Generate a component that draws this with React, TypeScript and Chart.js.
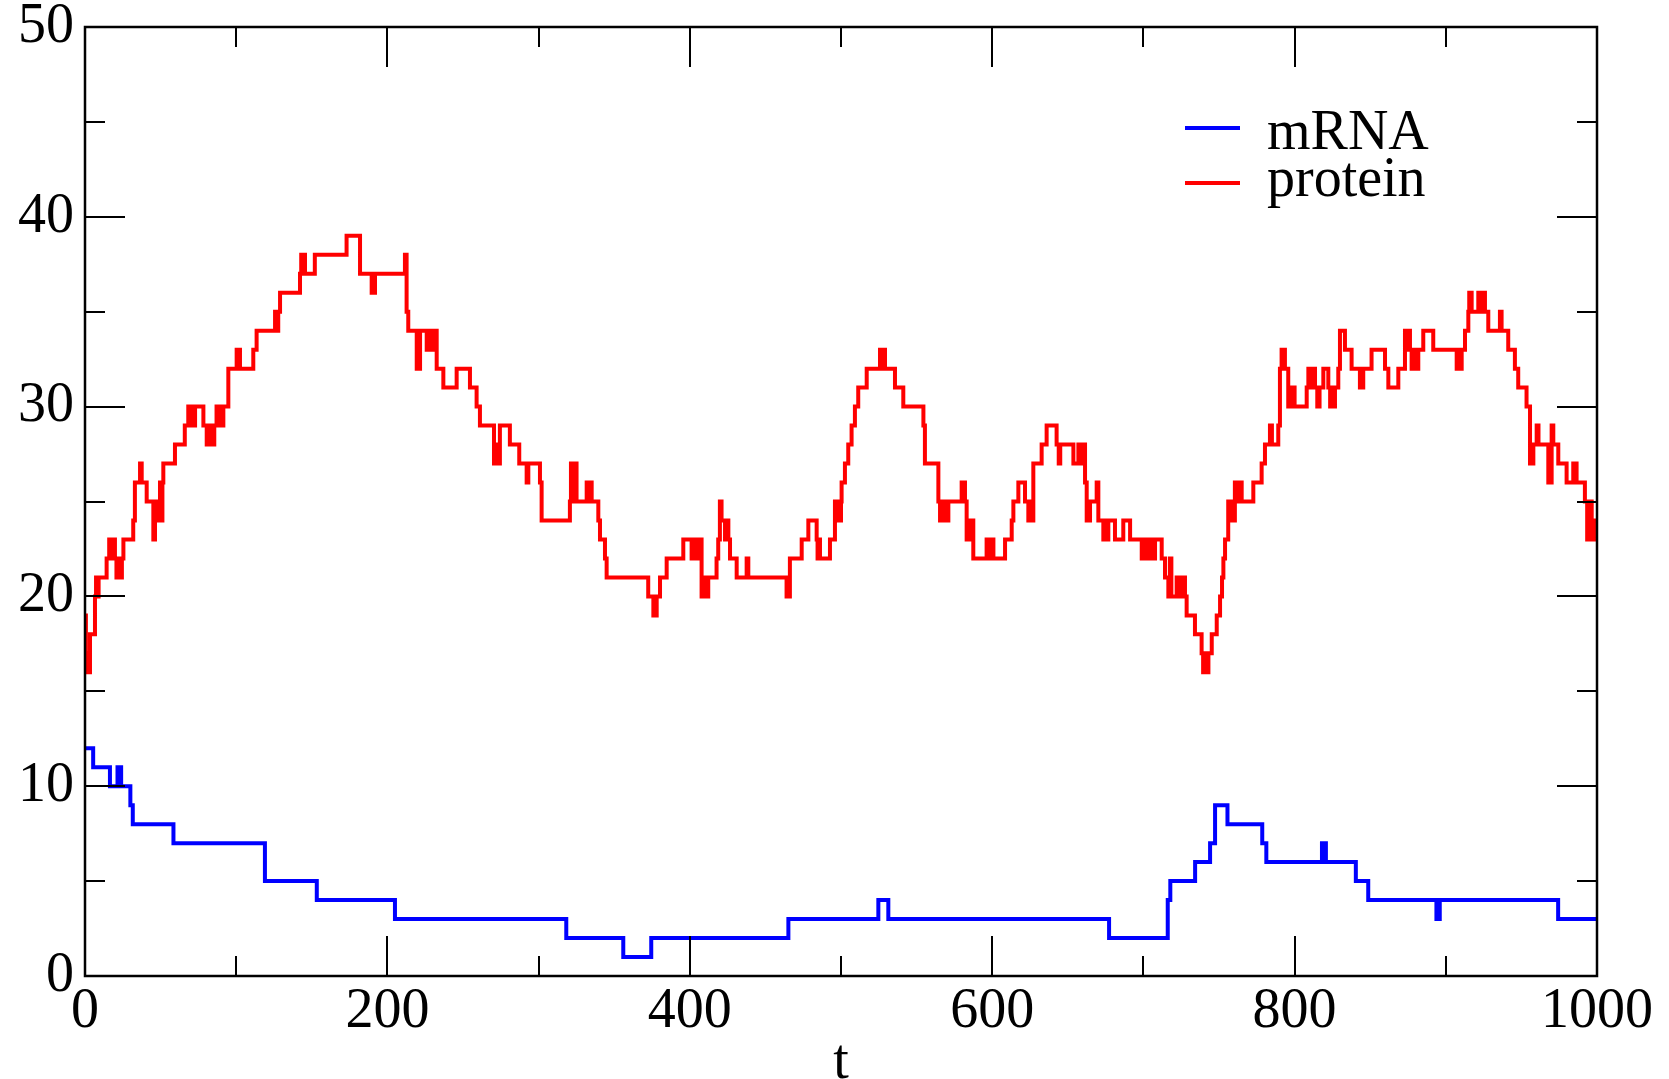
import React, { useEffect, useRef } from 'react';
import { Chart, registerables } from 'chart.js';

Chart.register(...registerables);

const FONT = "'Liberation Serif', 'Times New Roman', serif";

// mRNA copy number: value holds from each time until the next time
const mrnaTimes = [0, 5.4, 16.5, 21.5, 23.9, 30, 31.6, 58.5, 119, 153.3, 205, 318.3, 356, 374.5, 465.2, 524.7, 531.3, 677.3, 716.1, 717.8, 734.2, 744.1, 747.4, 755.6, 778.6, 781.3, 818.1, 820.7, 840.5, 848.7, 893.8, 896, 974.3, 1000];
const mrnaCounts = [12, 11, 10, 11, 10, 9, 8, 7, 5, 4, 3, 2, 1, 2, 3, 4, 3, 2, 4, 5, 6, 7, 9, 8, 7, 6, 7, 6, 5, 4, 3, 4, 3, 3];

// protein copy number
const proteinTimes = [
  0, 0.6, 1.2, 2, 2.6, 3.3, 6.6, 7.3, 8.1, 9, 14.3, 16, 18, 18.8, 19.8, 20.8, 22, 23.2, 24.4, 25.4,
  31.9, 33, 36.4, 37.5, 40.8, 45.2, 46.3, 47.4, 49.6, 50.5, 51.2, 51.8, 59.5, 66, 68.3, 69.5, 70.5, 71.8, 72.8,
  78.3, 80.5, 82.7, 84, 85.5, 87, 88.3, 89.8, 90.6, 91.5, 94.8, 100.3, 101.4, 102, 102.5, 111.3, 113.5,
  125.7, 126.8, 127.8, 129, 142.2, 143, 144, 144.8, 145.5, 152, 173, 181.9, 189.6, 191.8, 211.6, 212.7,
  213.8, 219.4, 221.6, 226, 227.5, 229, 231, 232.6, 237, 245.8, 254.6, 259, 261.2, 270.5, 272, 273.3,
  274.4, 281, 287.2, 292.1, 293.2, 294.3, 300.9, 302, 320.7, 321.4, 322.5, 323.5, 325.1, 331.8, 333.5,
  334.2, 335.1, 339.5, 340.6, 343.9, 345, 372.5, 375.9, 378.1, 380.3, 384.7, 395.7, 401.2, 403, 405,
  406.7, 407.8, 410, 411, 412.2, 417.7, 418.8, 419.9, 421, 423.3, 424.5, 425.5, 426.6, 431, 437.6, 438.7,
  464, 466.2, 474, 478.4, 483.9, 484.5, 485.2, 486.1, 492.7, 496, 497, 498, 499, 500, 500.4, 502.6,
  504.8, 507, 509.2, 511.4, 517, 525.8, 527.5, 528.3, 529.1, 535.7, 541.2, 554.5, 555.5, 564.4, 565.5,
  566.5, 567.5, 568.8, 569.8, 571, 579.8, 582, 583.1, 585.3, 587.5, 596.3, 598, 599, 600.8, 608.5,
  612.9, 614, 617.3, 621.7, 623.9, 625, 626, 627.2, 632.7, 636, 642.6, 644, 645, 653.7, 657, 658.5, 660,
  661.4, 662.5, 664.7, 669.1, 670.2, 673.5, 675, 676, 676.8, 681.2, 686.7, 691.2, 698.9, 700.5, 701.5,
  702.2, 704.4, 706, 707, 707.7, 712.1, 714.3, 716.5, 717.5, 718.5, 722, 723, 724.2, 726, 727, 727.5,
  728.6, 734.1, 738.5, 739.5, 741, 742, 743, 745.2, 748.5, 750.7, 752, 752.9, 754, 756.1, 757, 758,
  759, 760.5, 762, 763.5, 765, 772.7, 778.2, 780.4, 783.7, 785, 789.2, 790.3, 791.4, 793.6, 795.8,
  796.9, 798, 799, 800, 808, 809.1, 810.5, 812, 813.5, 815, 816.5, 819, 822.3, 823.5, 825, 826, 826.7,
  828.9, 830, 833.3, 837.7, 843.2, 845.4, 850.9, 859.8, 862, 868.6, 873, 874.5, 875.5, 876.3, 877.4,
  879, 880, 881.8, 885.1, 891.7, 907.2, 909, 910, 910.5, 912.7, 914.9, 915.5, 917.1, 921.5, 923, 924,
  925.9, 928.1, 935.8, 936.9, 941.3, 945.7, 947.9, 953.4, 955.7, 957.9, 960.1, 961.3, 967.8, 970,
  971.1, 974.4, 979.9, 984.3, 986.5, 992, 993.5, 995, 996.5, 998, 1000,
];
const proteinCounts = [
  19, 17, 16, 17, 16, 18, 20, 21, 20, 21, 22, 23, 22, 23, 22, 21, 22, 21, 22, 23,
  24, 26, 27, 26, 25, 23, 25, 24, 26, 24, 26, 27, 28, 29, 30, 29, 30, 29, 30,
  29, 28, 29, 28, 29, 30, 29, 30, 29, 30, 32, 33, 32, 33, 32, 33, 34,
  35, 34, 35, 36, 37, 38, 37, 38, 37, 38, 39, 37, 36, 37, 38, 35,
  34, 32, 34, 33, 34, 33, 34, 32, 31, 32, 31, 30, 29, 27, 28, 27,
  29, 28, 27, 26, 27, 27, 26, 24, 25, 27, 25, 27, 25, 26, 25,
  26, 25, 24, 23, 22, 21, 20, 19, 20, 21, 22, 23, 22, 23, 22,
  23, 20, 21, 20, 21, 22, 23, 25, 24, 23, 24, 23, 22, 21, 22, 21,
  20, 22, 23, 24, 23, 22, 23, 22, 23, 25, 24, 25, 24, 25, 26, 27,
  28, 29, 30, 31, 32, 33, 32, 33, 32, 31, 30, 29, 27, 25, 24,
  25, 24, 25, 24, 25, 26, 25, 23, 24, 22, 23, 22, 23, 22, 23,
  24, 25, 26, 25, 24, 25, 24, 27, 28, 29, 28, 27, 28, 27, 28, 27, 28,
  26, 24, 25, 26, 24, 23, 24, 23, 24, 23, 24, 23, 22, 23, 22,
  23, 22, 23, 22, 23, 22, 21, 20, 22, 20, 21, 20, 21, 20, 21, 20,
  19, 18, 17, 16, 17, 16, 17, 18, 19, 20, 21, 22, 23, 25, 24, 25,
  24, 26, 25, 26, 25, 26, 27, 28, 29, 28, 29, 32, 33, 32, 30,
  31, 30, 31, 30, 31, 32, 31, 32, 31, 30, 31, 32, 31, 30, 31, 30, 31,
  32, 34, 33, 32, 31, 32, 33, 32, 31, 32, 34, 33, 34, 33, 32,
  33, 32, 33, 34, 33, 32, 33, 32, 33, 34, 35, 36, 35, 36, 35, 36,
  35, 34, 35, 34, 33, 32, 31, 30, 27, 28, 29, 28, 26, 29,
  28, 27, 26, 27, 26, 25, 23, 25, 23, 24, 24,
];

const seriesLabels = ['mRNA', 'protein'];
const seriesColors = ['#0000ff', '#ff0000'];
const xTickValues = [0, 200, 400, 600, 800, 1000];
const xMinorValues = [100, 300, 500, 700, 900];
const yTickValues = [0, 10, 20, 30, 40, 50];
const yMinorValues = [5, 15, 25, 35, 45];
const xAxisTitle = 't';

const framePlugin = {
  id: 'frameTicks',
  afterDraw(chart: any) {
    const { ctx, chartArea } = chart;
    const { left, right, top, bottom } = chartArea;
    const xs = chart.scales.x;
    const ys = chart.scales.y;
    ctx.save();
    ctx.strokeStyle = '#000';
    ctx.lineCap = 'butt';
    ctx.lineWidth = 2;
    const major = 40;
    const minor = 20;
    const drawX = (v: number, len: number) => {
      const px = Math.round(xs.getPixelForValue(v));
      ctx.beginPath();
      ctx.moveTo(px, bottom);
      ctx.lineTo(px, bottom - len);
      ctx.moveTo(px, top);
      ctx.lineTo(px, top + len);
      ctx.stroke();
    };
    const drawY = (v: number, len: number) => {
      const py = Math.round(ys.getPixelForValue(v));
      ctx.beginPath();
      ctx.moveTo(left, py);
      ctx.lineTo(left + len, py);
      ctx.moveTo(right, py);
      ctx.lineTo(right - len, py);
      ctx.stroke();
    };
    xTickValues.forEach((v) => drawX(v, major));
    xMinorValues.forEach((v) => drawX(v, minor));
    yTickValues.forEach((v) => drawY(v, major));
    yMinorValues.forEach((v) => drawY(v, minor));
    ctx.lineWidth = 2.5;
    ctx.strokeRect(left, top, right - left, bottom - top);

    // legend
    const lx0 = 1185;
    const lx1 = 1240;
    const lineYs = [128, 183];
    const textYs = [149, 196];
    ctx.font = `56px ${FONT}`;
    ctx.textAlign = 'left';
    ctx.textBaseline = 'alphabetic';
    chart.data.datasets.forEach((ds: any, i: number) => {
      ctx.strokeStyle = ds.borderColor;
      ctx.lineWidth = 4;
      ctx.beginPath();
      ctx.moveTo(lx0, lineYs[i]);
      ctx.lineTo(lx1, lineYs[i]);
      ctx.stroke();
      ctx.fillStyle = '#000';
      ctx.fillText(ds.label, 1267, textYs[i]);
    });
    ctx.restore();
  },
};

export default function App() {
  const canvasRef = useRef<HTMLCanvasElement | null>(null);

  useEffect(() => {
    if (!canvasRef.current) return;
    Chart.defaults.font.family = FONT;
    const mrnaPts = mrnaTimes.map((t, i) => ({ x: t, y: mrnaCounts[i] }));
    const proteinPts = proteinTimes.map((t, i) => ({ x: t, y: proteinCounts[i] }));
    const chart = new Chart(canvasRef.current, {
      type: 'line',
      data: {
        datasets: [
          {
            label: seriesLabels[0],
            data: mrnaPts,
            borderColor: seriesColors[0],
            backgroundColor: seriesColors[0],
            borderWidth: 4,
            pointRadius: 0,
            stepped: true,
            fill: false,
          },
          {
            label: seriesLabels[1],
            data: proteinPts,
            borderColor: seriesColors[1],
            backgroundColor: seriesColors[1],
            borderWidth: 4,
            pointRadius: 0,
            stepped: true,
            fill: false,
          },
        ],
      },
      options: {
        animation: false,
        responsive: false,
        devicePixelRatio: 1,
        layout: { padding: { left: 0, right: 72, top: 27, bottom: 0 } },
        plugins: { legend: { display: false }, tooltip: { enabled: false } },
        scales: {
          x: {
            type: 'linear',
            min: 0,
            max: 1000,
            afterBuildTicks: (s: any) => {
              s.ticks = xTickValues.map((v) => ({ value: v }));
            },
            ticks: {
              font: { family: FONT, size: 56, lineHeight: 0.9 },
              color: '#000',
              padding: 11,
              maxRotation: 0,
              autoSkip: false,
              callback: (v: any) => String(v),
            },
            grid: { display: false, drawTicks: false },
            border: { display: false },
            title: {
              display: true,
              text: xAxisTitle,
              color: '#000',
              font: { family: FONT, size: 56, lineHeight: 0.55 },
              padding: 0,
            },
            afterFit: (s: any) => {
              s.height = 103;
            },
          },
          y: {
            type: 'linear',
            min: 0,
            max: 50,
            afterBuildTicks: (s: any) => {
              s.ticks = yTickValues.map((v) => ({ value: v }));
            },
            ticks: {
              font: { family: FONT, size: 56, lineHeight: 0.5 },
              color: '#000',
              padding: 11,
              autoSkip: false,
              callback: (v: any) => String(v),
            },
            grid: { display: false, drawTicks: false },
            border: { display: false },
            afterFit: (s: any) => {
              s.width = 85;
            },
          },
        },
      },
      plugins: [framePlugin],
    } as any);
    return () => chart.destroy();
  }, []);

  return (
    <div style={{ position: 'absolute', left: 0, top: 0, width: 1669, height: 1079, background: '#fff' }}>
      <canvas ref={canvasRef} width={1669} height={1079} />
    </div>
  );
}
